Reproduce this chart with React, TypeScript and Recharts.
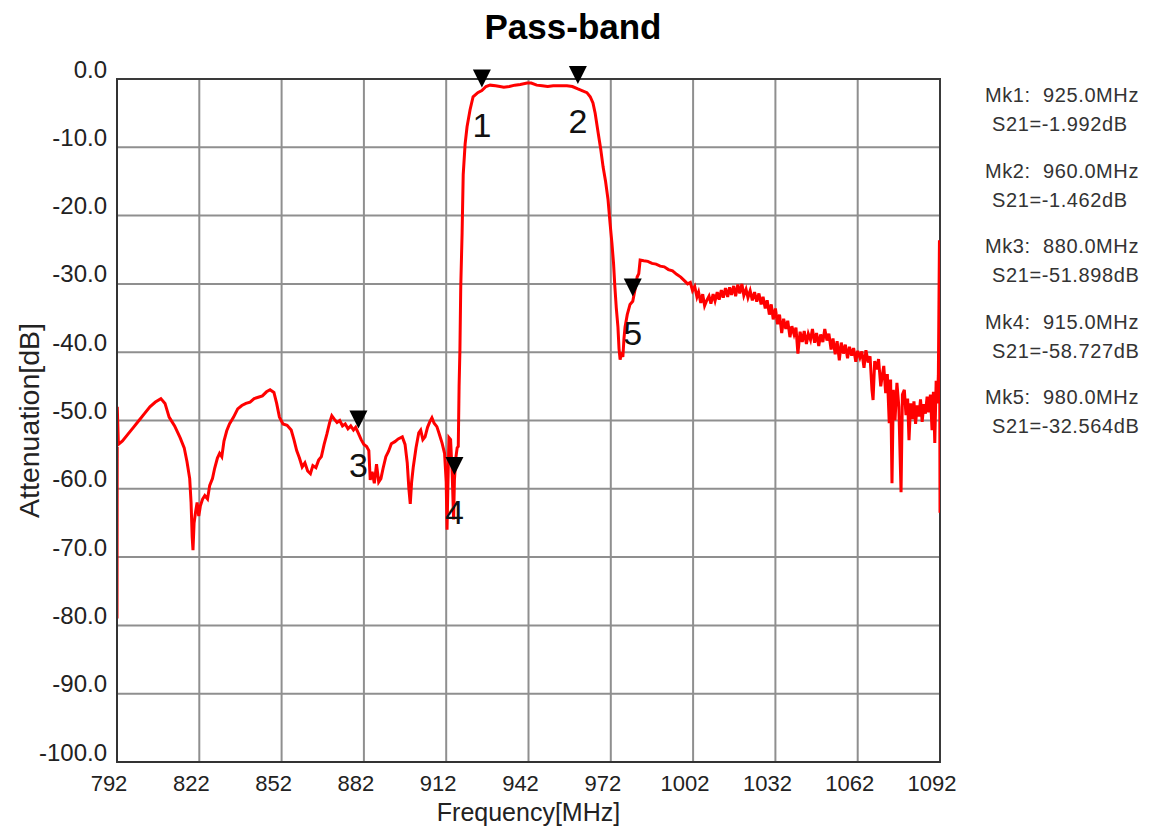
import React from 'react';
import {
  ComposedChart,
  Line,
  XAxis,
  YAxis,
  CartesianGrid,
  ReferenceArea,
  ReferenceDot,
  Label,
} from 'recharts';

const FONT = '"Liberation Sans", Arial, sans-serif';

// ---- S21 trace, lower stop-band (MHz / dB) ----
const lowStopFreq = [
  792, 792.1, 792.5, 794, 796, 798, 800, 802, 804, 806,
  808, 809.5, 811, 813, 815, 816.5, 817.5, 818.5, 819, 819.4,
  819.7, 820.1, 820.6, 821.2, 821.8, 822.4, 823.2, 824, 825, 825.8,
  826.8, 827.6, 828.6, 829.4, 830.2, 831, 832, 833, 834.5, 836,
  837.5, 839, 840.5, 842, 843.5, 845, 846.5, 847.8, 849.2, 850.2,
  851.2, 852.5, 854, 855.5, 856.5, 857.5, 858.5, 859.5, 860.5, 861.5,
  862.5, 863.4, 864.5, 865.5, 866.5, 867.5, 868.5, 869.5, 870.3, 871.2,
  872.2, 873.2, 874.2, 875.2, 876.2, 877.2, 878.2, 879, 880, 881,
  882, 883, 883.8, 884.3, 885, 885.8, 886.6, 887.4, 888.2, 889,
  890, 891, 892, 893.3, 894.5, 896, 897, 897.8, 898.4, 898.9,
  899.4, 900, 901, 902, 902.7, 903.5, 904.3, 905.2, 906, 906.8,
  907.6, 908.6, 909.5, 910.5, 911.4, 912, 912.3, 912.6, 913, 913.6,
  914.2, 914.7, 915, 915.5, 916, 916.4,
];
const lowStopAtt = [
  -79, -48, -53.5, -53, -52, -51, -50, -49, -48, -47.3,
  -46.8, -47.5, -49.5, -50.8, -52.5, -54, -56, -58.5, -62, -67,
  -69, -65, -63.5, -62, -64, -62.5, -61.5, -61, -61.5, -59.5,
  -58.5, -57, -55.5, -54.8, -55.3, -53, -51.5, -50.5, -49.5, -48.3,
  -47.8, -47.5, -47.3, -46.8, -46.6, -46.4, -45.8, -45.5, -45.9, -47.5,
  -49.5, -50.5, -50.7, -51.4, -52.8, -54.4, -55.5, -56.8, -56.2, -57.4,
  -57.8, -56.6, -56.9, -55.8, -55.3, -53.5, -52, -50.3, -49.3, -49.8,
  -50.3, -50, -50.8, -50.5, -51.2, -50.8, -51.4, -51, -51.9, -52.8,
  -53.5, -53.8, -54.4, -58.7, -57.5, -59.2, -56.4, -59, -58.5, -57,
  -55.3, -54.5, -53.4, -53.1, -52.7, -52.4, -53.5, -56.2, -60, -62.2,
  -59, -56.8, -54, -51.8, -51.4, -52.8, -52.4, -51, -50.2, -49.6,
  -50.4, -50.9, -52, -53.3, -54.8, -59, -66, -60, -52.5, -52.8,
  -58, -64.5, -58.7, -55.5, -54, -53.8,
];

// ---- pass-band and transition ----
const passFreq = [
  916.7, 917, 917.3, 917.8, 918.2, 918.9, 919.6, 920.7, 921.8, 923.5,
  925, 926.5, 928, 930, 931.6, 933, 935, 937, 939, 941.5,
  943, 945, 947, 949, 951, 953.5, 956, 958, 960, 961.5,
  963.3, 964.5, 965.5, 966.3, 967.4, 968.3, 969.2, 970.1, 971, 971.7,
  972.4, 973, 973.5, 974, 974.6, 975, 975.4, 975.9, 976.4, 976.8,
  977.2, 978, 979, 980, 981, 981.6, 982.2, 982.7, 984, 985.5,
  987, 988.5, 990, 991.5, 993, 994.5, 996, 997.5, 999, 1000,
  1001, 1001.8,
];
const passAtt = [
  -45, -39.7, -30.5, -22.5, -14, -9.5, -7, -4.5, -2.6, -2.0,
  -1.7, -1.1, -0.9, -1.0, -1.1, -1.2, -1.1, -0.9, -0.8, -0.6,
  -0.6, -0.9, -1.0, -1.1, -1.0, -1.0, -1.0, -1.1, -1.46, -1.7,
  -2.0, -2.6, -3.5, -5, -7.9, -10.2, -12.9, -15, -17.7, -21,
  -24, -27, -30.5, -33.5, -36.3, -39.5, -41.1, -40, -40.7, -38,
  -36.3, -34.5, -33, -32.56, -30.5, -29, -28.5, -26.5, -26.6, -26.7,
  -27, -27.1, -27.4, -27.5, -27.9, -28.1, -28.6, -29, -29.6, -30,
  -29.8, -31,
];

// ---- upper stop-band ----
const highStopFreq = [
  1002.6, 1003.4, 1004, 1004.8, 1005.5, 1006.2, 1007, 1007.8, 1008.5, 1009.3,
  1010, 1010.8, 1011.5, 1012.3, 1013, 1013.8, 1014.6, 1015.3, 1016, 1016.8,
  1017.5, 1018.3, 1019, 1019.8, 1020.5, 1021.3, 1022, 1022.8, 1023.6, 1024.4,
  1025.2, 1026, 1026.8, 1027.5, 1028.3, 1029, 1029.8, 1030.5, 1031.2, 1032,
  1032.8, 1033.5, 1034.3, 1035, 1035.8, 1036.5, 1037.3, 1038, 1038.8, 1039.5,
  1040.2, 1041, 1041.8, 1042.5, 1043.3, 1044, 1044.8, 1045.5, 1046.3, 1047,
  1047.8, 1048.5, 1049.3, 1050, 1050.8, 1051.5, 1052.3, 1053, 1053.8, 1054.5,
  1055.3, 1056, 1056.8, 1057.5, 1058.3, 1059, 1059.8, 1060.5, 1061.3, 1062,
  1062.8, 1063.5, 1064.3, 1065, 1065.8, 1066.5, 1067.2, 1067.6, 1068.2, 1069,
  1069.6, 1070.4, 1070.9, 1071.5, 1072.2, 1072.8, 1073.5, 1074, 1074.5, 1075,
  1075.6, 1076.3, 1077, 1077.8, 1078.3, 1079, 1079.6, 1080.2, 1080.7, 1081.3,
  1081.9, 1082.5, 1083.1, 1083.7, 1084.3, 1084.9, 1085.5, 1086.1, 1086.7, 1087.3,
  1087.9, 1088.5, 1089.1, 1089.6, 1090.1, 1090.6, 1091, 1091.4, 1091.8, 1092,
];
const highStopAtt = [
  -30.4, -31.9, -31.2, -32.8, -31.5, -33.2, -32.4, -31.8, -32.9, -31.5,
  -32.5, -31.2, -32.3, -30.9, -32, -30.6, -31.9, -30.5, -31.6, -30.3,
  -31.8, -30.1, -31.4, -30, -31.7, -30.8, -32, -31, -32.4, -31.2,
  -32.6, -31.4, -33, -31.9, -33.6, -32.4, -34.5, -33, -35.2, -33.6,
  -35.9, -34.5, -37.2, -35.1, -36.6, -35.4, -37.8, -36.2, -37.4, -36.4,
  -40.2, -37, -38.5, -36.9, -38.8, -37.3, -38.2, -36.6, -38.6, -37.2,
  -39.1, -37.4, -38.5, -36.6, -38.3, -37.3, -39.6, -38, -40.3, -38.4,
  -41.2, -38.6, -40.2, -38.9, -40.9, -39.2, -40.5, -39.4, -41.4, -39.8,
  -40.8, -39.9, -42.3, -39.7, -41.5, -40.6, -45.5, -47, -41.3, -42.5,
  -41, -45, -43.6, -42, -46, -43.2, -50.4, -44, -59.2, -45.5,
  -50, -44.5, -48, -60.5, -46.2, -45.5, -49.2, -46.8, -52.9, -47.5,
  -49.8, -47.2, -50.5, -47.8, -49.4, -46.9, -50.2, -47.6, -49, -46.5,
  -48.8, -46.2, -51.4, -45.8, -53.3, -44.2, -47.5, -43.4, -23.6, -63.5,
];

// ---- axes ----
const xTicks = [792, 822, 852, 882, 912, 942, 972, 1002, 1032, 1062, 1092];
const yTicks = [0, -10, -20, -30, -40, -50, -60, -70, -80, -90, -100];

// ---- markers ----
const markerIds = ['1', '2', '3', '4', '5'];
const markerFreq = [925, 960, 880, 915, 980];
const markerS21 = [-1.992, -1.462, -51.898, -58.727, -32.564];

const titleText = 'Pass-band';
const xLabelText = 'Frequency[MHz]';
const yLabelText = 'Attenuation[dB]';

const allFreq = [...lowStopFreq, ...passFreq, ...highStopFreq];
const allAtt = [...lowStopAtt, ...passAtt, ...highStopAtt];
const data = allFreq.map((f, i) => ({ f, s21: allAtt[i] }));

const XTick = (props: any) => {
  const { x, y, payload } = props;
  return (
    <text
      x={x - 8}
      y={y + 21.5}
      textAnchor="middle"
      dominantBaseline="central"
      fontSize={22}
      fontFamily={FONT}
      fill="#222"
    >
      {payload.value}
    </text>
  );
};

const YTick = (props: any) => {
  const { x, y, payload } = props;
  return (
    <text
      x={x - 10}
      y={y - 10}
      textAnchor="end"
      dominantBaseline="central"
      fontSize={24}
      fontFamily={FONT}
      fill="#222"
    >
      {Number(payload.value).toFixed(1)}
    </text>
  );
};

const makeMarkerShape = (id: string) => (props: any) => {
  const { cx, cy } = props;
  return (
    <g>
      <path d={`M${cx - 9},${cy - 23} L${cx + 9},${cy - 23} L${cx},${cy - 5} Z`} fill="#000" />
      <text
        x={cx}
        y={cy + 32}
        textAnchor="middle"
        dominantBaseline="central"
        fontSize={34}
        fontFamily={FONT}
        fill="#111"
      >
        {id}
      </text>
    </g>
  );
};

export default function App() {
  return (
    <div style={{ position: 'absolute', left: 0, top: 0, width: 1155, height: 827, background: '#fff', overflow: 'hidden' }}>
      <ComposedChart
        width={1155}
        height={827}
        data={data}
        margin={{ top: 79, right: 215, bottom: 35, left: 0 }}
      >
        <CartesianGrid stroke="#8f8f8f" strokeWidth={2} />
        <XAxis
          dataKey="f"
          type="number"
          domain={[792, 1092]}
          ticks={xTicks}
          allowDataOverflow
          height={30}
          tickSize={0}
          tickMargin={0}
          tickLine={false}
          axisLine={{ stroke: '#333', strokeWidth: 2 }}
          tick={<XTick />}
          interval={0}
        >
          <Label
            content={(p: any) => {
              const vb = p.viewBox;
              return (
                <text
                  x={vb.x + vb.width / 2}
                  y={vb.y + 50}
                  textAnchor="middle"
                  dominantBaseline="central"
                  fontSize={25}
                  fontFamily={FONT}
                  fill="#222"
                >
                  {xLabelText}
                </text>
              );
            }}
          />
        </XAxis>
        <YAxis
          type="number"
          domain={[-100, 0]}
          ticks={yTicks}
          allowDataOverflow
          width={117}
          tickSize={0}
          tickMargin={0}
          tickLine={false}
          axisLine={{ stroke: '#333', strokeWidth: 2 }}
          tick={<YTick />}
          interval={0}
        >
          <Label
            content={(p: any) => {
              const vb = p.viewBox;
              const cx = vb.x + 29;
              const cy = vb.y + vb.height / 2;
              return (
                <text
                  x={cx}
                  y={cy}
                  transform={`rotate(-90 ${cx} ${cy})`}
                  textAnchor="middle"
                  dominantBaseline="central"
                  fontSize={28.5}
                  fontFamily={FONT}
                  fill="#222"
                >
                  {yLabelText}
                </text>
              );
            }}
          />
        </YAxis>
        <ReferenceArea
          x1={792}
          x2={1092}
          y1={-100}
          y2={0}
          fill="none"
          stroke="#3a3a3a"
          strokeWidth={2}
          ifOverflow="visible"
        />
        <Line
          dataKey="s21"
          type="linear"
          stroke="#ff0000"
          strokeWidth={3}
          dot={false}
          activeDot={false}
          isAnimationActive={false}
        />
        {markerIds.map((id, i) => (
          <ReferenceDot
            key={id}
            x={markerFreq[i]}
            y={markerS21[i]}
            r={4}
            ifOverflow="visible"
            shape={makeMarkerShape(id)}
          />
        ))}
      </ComposedChart>
      <svg
        width={1155}
        height={827}
        style={{ position: 'absolute', left: 0, top: 0, pointerEvents: 'none' }}
      >
        <text
          x={573}
          y={39}
          textAnchor="middle"
          fontSize={35}
          fontWeight="bold"
          fontFamily={FONT}
          fill="#000"
        >
          {titleText}
        </text>
        {markerIds.map((id, i) => {
          const y0 = 95 + i * 75.5;
          return (
            <g key={id}>
              <text
                x={985}
                y={y0}
                dominantBaseline="central"
                fontSize={20}
                letterSpacing={0.6}
                fontFamily={FONT}
                fill="#333"
                style={{ whiteSpace: 'pre' }}
              >
                {`Mk${id}:  ${markerFreq[i].toFixed(1)}MHz`}
              </text>
              <text
                x={992}
                y={y0 + 29}
                dominantBaseline="central"
                fontSize={20}
                letterSpacing={0.6}
                fontFamily={FONT}
                fill="#333"
                style={{ whiteSpace: 'pre' }}
              >
                {`S21=${markerS21[i].toFixed(3)}dB`}
              </text>
            </g>
          );
        })}
      </svg>
    </div>
  );
}
